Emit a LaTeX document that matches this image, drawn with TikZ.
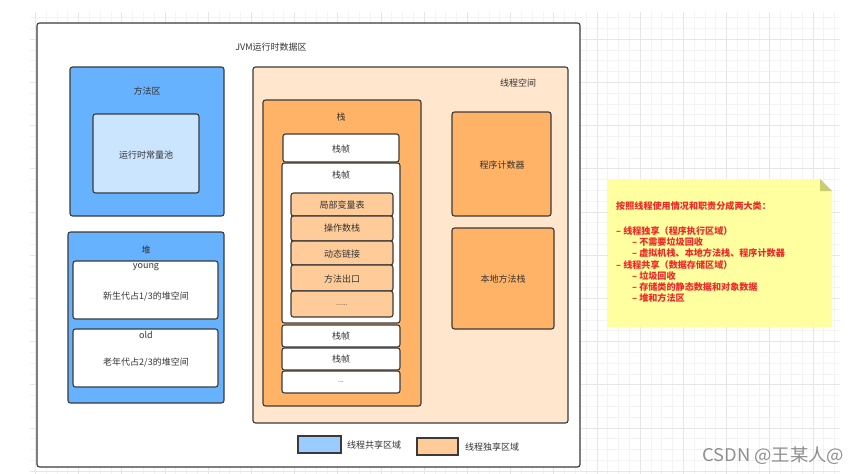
\documentclass[tikz,border=0pt]{standalone}
\usepackage{fontspec}
\setmainfont{Noto Sans CJK SC}
\definecolor{strokec}{HTML}{3A3A3A}
\definecolor{textc}{HTML}{333333}
\definecolor{blueA}{HTML}{66B2FF}
\definecolor{blueB}{HTML}{CCE5FF}
\definecolor{blueL}{HTML}{99CCFF}
\definecolor{orA}{HTML}{FFE6CC}
\definecolor{orB}{HTML}{FFB366}
\definecolor{orC}{HTML}{FFCC99}
\definecolor{notec}{HTML}{FFFFA0}
\definecolor{foldc}{HTML}{CCCC70}
\definecolor{notetext}{HTML}{F02828}
\definecolor{gridmin}{HTML}{F3F3F3}
\definecolor{gridmaj}{HTML}{E6E6E6}
\definecolor{wmark}{HTML}{8E8E8E}
\tikzset{
  box/.style={draw=strokec, line width=1.1pt, rounded corners=2.5pt},
  lbl/.style={font=\fontsize{9}{11}\selectfont, text=textc, inner sep=0pt},
}
\begin{document}
\begin{tikzpicture}[x=1pt,y=-1pt]
\useasboundingbox (0,0) rectangle (865,474);
% grid
\foreach \i in {0,...,74} \draw[gridmin, line width=0.6pt] ({35.2+10.8*\i},12) -- ({35.2+10.8*\i},474);
\foreach \j in {0,...,42} \draw[gridmin, line width=0.6pt] (30,{17.4+10.8*\j}) -- (840,{17.4+10.8*\j});
\foreach \i in {0,...,18} \draw[gridmaj, line width=0.6pt] ({35.2+43.2*\i},12) -- ({35.2+43.2*\i},474);
\foreach \j in {0,...,10} \draw[gridmaj, line width=0.6pt] (30,{39+43.2*\j}) -- (840,{39+43.2*\j});

% main box
\draw[box, fill=white] (37,23) rectangle (580,467);
\node[lbl] (title) at (271,47) {JVM运行时数据区};

% method area
\draw[box, fill=blueA] (70,67) rectangle (224,216);
\node[lbl] (ma) at (147,91) {方法区};
\draw[box, fill=blueB] (93,114) rectangle (199,193);
\node[lbl] (rcp) at (146,155) {运行时常量池};

% heap
\draw[box, fill=blueA] (68,232) rectangle (224,403);
\node[lbl] (heap) at (146,250) {堆};
\draw[box, fill=white] (73,261) rectangle (218,319);
\node[lbl] (young) at (146,267) {young};
\node[lbl] (younga) at (146,296) {新生代占1/3的堆空间};
\draw[box, fill=white] (73,329) rectangle (218,387);
\node[lbl] (old) at (146,335) {old};
\node[lbl] (olda) at (146,362) {老年代占2/3的堆空间};

% thread space
\draw[box, fill=orA] (253,67) rectangle (568,423);
\node[lbl] (ts) at (518,83) {线程空间};

% stack
\draw[box, fill=orB] (263,100) rectangle (421,406);
\node[lbl] (stack) at (341,117) {栈};
\draw[box, fill=white] (283,134) rectangle (399,162);
\node[lbl] (f1) at (341,149) {栈帧};
\draw[box, fill=white] (282,163) rectangle (400,323);
\node[lbl] (f2) at (341,175) {栈帧};
\draw[box, fill=orC] (291,193) rectangle (393,216);
\node[lbl] (lv) at (342,205) {局部变量表};
\draw[box, fill=orC] (291,216) rectangle (393,241);
\node[lbl] (os) at (342,228) {操作数栈};
\draw[box, fill=orC] (291,241) rectangle (393,265);
\node[lbl] (dl) at (342,254) {动态链接};
\draw[box, fill=orC] (291,265) rectangle (393,291);
\node[lbl] (me) at (342,279) {方法出口};
\draw[box, fill=orC] (291,291) rectangle (393,317);
\node[lbl, font=\fontsize{7}{8}\selectfont] (dots1) at (342,305) {......};
\draw[box, fill=white] (282,325) rectangle (400,347);
\node[lbl] (f3) at (341,336) {栈帧};
\draw[box, fill=white] (282,348) rectangle (400,370);
\node[lbl] (f4) at (341,359) {栈帧};
\draw[box, fill=white] (282,371) rectangle (400,393);
\node[lbl, font=\fontsize{7}{8}\selectfont] (f5) at (341,382) {...};

% PC and native stack
\draw[box, fill=orB] (452,112) rectangle (551,216);
\node[lbl] (pc) at (502,165) {程序计数器};
\draw[box, fill=orB] (452,228) rectangle (554,329);
\node[lbl] (ns) at (503,279) {本地方法栈};

% legend
\draw[box, rounded corners=0pt, fill=blueL] (298,436) rectangle (341,453);
\node[lbl, anchor=west] (lg1) at (347,445) {线程共享区域};
\draw[box, rounded corners=0pt, fill=orC] (417,438) rectangle (458,455);
\node[lbl, anchor=west] (lg2) at (465,447) {线程独享区域};

% note
\fill[notec] (608,179) -- (820,179) -- (832,191) -- (832,327) -- (608,327) -- cycle;
\fill[foldc] (820,179) -- (832,191) -- (820,191) -- cycle;
\node[anchor=north west, inner sep=0pt, align=left, text=notetext,
      font=\fontsize{9.1}{11.2}\selectfont\bfseries] (notetxt) at (616,201)
{按照线程使用情况和职责分成两大类：\\[3pt]
\mbox{}\\
– 线程独享（程序执行区域）\\
\hspace*{16pt}– 不需要垃圾回收\\
\hspace*{16pt}– 虚拟机栈、本地方法栈、程序计数器\\
– 线程共享（数据存储区域）\\
\hspace*{16pt}– 垃圾回收\\
\hspace*{16pt}– 存储类的静态数据和对象数据\\
\hspace*{16pt}– 堆和方法区};

% watermark
\node[anchor=base west, inner sep=0pt, text=wmark, font=\fontsize{17.5}{20}\selectfont, xscale=1.05] (wm) at (702,461) {CSDN @王某人@};
\end{tikzpicture}
\end{document}
